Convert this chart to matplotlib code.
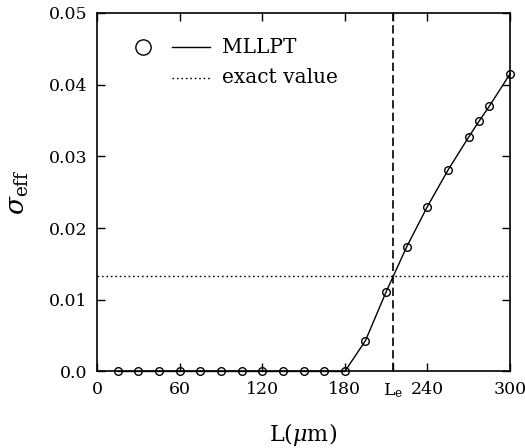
import matplotlib
matplotlib.use("Agg")
import matplotlib.pyplot as plt
from matplotlib.lines import Line2D

plt.rcParams['font.family'] = ['DejaVu Serif']
plt.rcParams['mathtext.fontset'] = 'dejavuserif'

L = [15, 30, 45, 60, 75, 90, 105, 120, 135, 150, 165, 180,
     195, 210, 225, 240, 255, 270, 277.5, 285, 300]
sigma = [0, 0, 0, 0, 0, 0, 0, 0, 0, 0, 0, 0,
         0.0043, 0.0111, 0.0174, 0.0230, 0.0281, 0.0327, 0.0349, 0.0370, 0.0415]
exact_value = 0.01336
L_e = 215
xticks = [0, 60, 120, 180, L_e, 240, 300]
xticklabels = ['0', '60', '120', '180', r'L$_{\mathregular{e}}$', '240', '300']
yticks = [0.0, 0.01, 0.02, 0.03, 0.04, 0.05]
yticklabels = ['0.0', '0.01', '0.02', '0.03', '0.04', '0.05']

fig = plt.figure(figsize=(5.25, 4.48), dpi=100)
ax = fig.add_axes([0.1848, 0.1708, 0.7866, 0.8002])

ax.plot(L, sigma, '-', color='black', lw=1.0, marker='o', ms=5.5,
        mfc='none', mec='black', mew=1.0, clip_on=False, zorder=3)
ax.axhline(exact_value, color='black', lw=1.0, ls=(0, (1.2, 2)))
ax.axvline(L_e, color='black', lw=1.2, ls=(0, (5, 2.5)))

ax.set_xlim(0, 300)
ax.set_ylim(0, 0.05)
ax.set_xticks(xticks)
ax.set_xticklabels(xticklabels)
ax.set_yticks(yticks)
ax.set_yticklabels(yticklabels)
ax.tick_params(direction='in', length=6, width=1, top=True, right=True,
               labelsize=12.5, pad=7)
for s in ax.spines.values():
    s.set_linewidth(1.2)

ax.set_xlabel(r'L($\mu$m)', fontsize=16, labelpad=15)
ax.set_ylabel(r'$\sigma_{\rm eff}$', fontsize=19, labelpad=13)

# legend (drawn manually in axes fraction)
tr = ax.transAxes
ax.add_line(Line2D([0.111], [0.905], marker='o', ms=11, mfc='none',
                   mec='black', mew=1.0, transform=tr))
ax.add_line(Line2D([0.182, 0.274], [0.905, 0.905], color='black', lw=1.0,
                   transform=tr))
ax.text(0.303, 0.905, 'MLLPT', transform=tr, fontsize=14.5, va='center')
ax.add_line(Line2D([0.182, 0.274], [0.819, 0.819], color='black', lw=1.0,
                   ls=(0, (1.2, 2)), transform=tr))
ax.text(0.303, 0.819, 'exact value', transform=tr, fontsize=14.5, va='center')

fig.savefig('out.png', dpi=100)
